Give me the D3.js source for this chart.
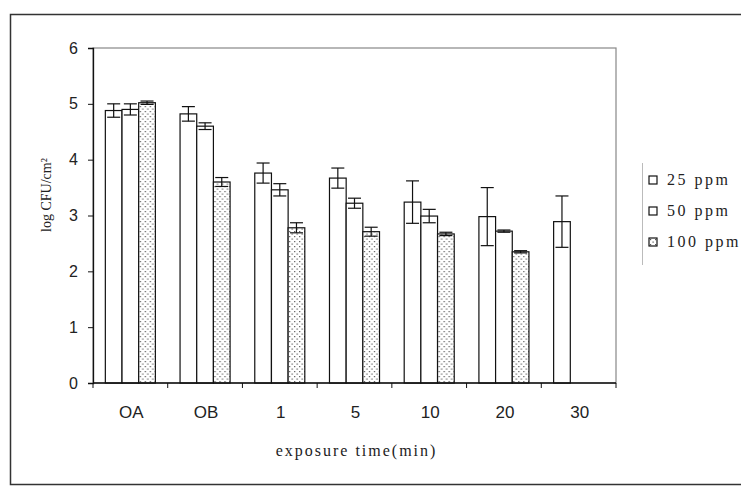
<!DOCTYPE html>
<html>
<head>
<meta charset="utf-8">
<script src="https://cdn.jsdelivr.net/npm/d3@7"></script>
<style>
  body { margin: 0; background: #fff; }
  svg { display: block; }
</style>
</head>
<body>
<div id="chart"></div>
<script>
// categories and series
const categories = ["OA", "OB", "1", "5", "10", "20", "30"];
const seriesNames = ["25 ppm", "50 ppm", "100 ppm"];

// mean values (log CFU/cm2), null = no bar
const values25  = [4.88, 4.82, 3.76, 3.67, 3.24, 2.98, 2.89];
const values50  = [4.90, 4.60, 3.46, 3.22, 2.99, 2.72, null];
const values100 = [5.02, 3.60, 2.78, 2.71, 2.67, 2.35, null];

// error bars
const err25  = [0.12, 0.13, 0.18, 0.18, 0.38, 0.52, 0.46];
const err50  = [0.10, 0.06, 0.11, 0.09, 0.12, 0.02, null];
const err100 = [0.03, 0.08, 0.09, 0.08, 0.03, 0.02, null];

const yTicks = [0, 1, 2, 3, 4, 5, 6];

const width = 741, height = 488;
const margin = { top: 48, right: 125, bottom: 105, left: 93 };

const rows = [];
categories.forEach((c, i) => {
    [values25, values50, values100].forEach((vals, j) => {
        const errs = [err25, err50, err100][j];
        if (vals[i] !== null) rows.push({ cat: c, key: seriesNames[j], value: vals[i], err: errs[i] });
    });
});

const svg = d3.select("#chart").append("svg")
    .attr("width", width)
    .attr("height", height)
    .attr("viewBox", [0, 0, width, height]);

// dotted fill for 100 ppm
const defs = svg.append("defs");
const pat = defs.append("pattern")
    .attr("id", "dots")
    .attr("patternUnits", "userSpaceOnUse")
    .attr("width", 5)
    .attr("height", 5);
pat.append("rect").attr("width", 5).attr("height", 5).attr("fill", "#fff");
pat.append("rect").attr("x", 1).attr("y", 1).attr("width", 1.2).attr("height", 1.2).attr("fill", "#555");
pat.append("rect").attr("x", 3.5).attr("y", 3.5).attr("width", 1.2).attr("height", 1.2).attr("fill", "#555");

// outer chart frame
svg.append("rect")
    .attr("x", 10.5)
    .attr("y", 14.5)
    .attr("width", 780)
    .attr("height", 470)
    .attr("fill", "none")
    .attr("stroke", "#333")
    .attr("stroke-width", 1.5);

const x0 = d3.scaleBand()
    .domain(categories)
    .range([margin.left, width - margin.right]);

const x1 = d3.scaleBand()
    .domain(seriesNames)
    .range([0, x0.bandwidth()])
    .paddingOuter(0.74);

const y = d3.scaleLinear()
    .domain([0, 6])
    .range([height - margin.bottom, margin.top]);

const fill = d3.scaleOrdinal().domain(seriesNames).range(["#fff", "#fff", "url(#dots)"]);

// plot area border
svg.append("rect")
    .attr("x", margin.left)
    .attr("y", margin.top)
    .attr("width", width - margin.left - margin.right)
    .attr("height", height - margin.top - margin.bottom)
    .attr("fill", "none")
    .attr("stroke", "#888")
    .attr("stroke-width", 1.2);

// bars
const bar = svg.append("g")
    .selectAll("g")
    .data(rows)
    .join("g")
    .attr("transform", d => `translate(${x0(d.cat) + x1(d.key)},0)`);

bar.append("rect")
    .attr("x", 0)
    .attr("y", d => y(d.value))
    .attr("width", x1.bandwidth())
    .attr("height", d => y(0) - y(d.value))
    .attr("fill", d => fill(d.key))
    .attr("stroke", "#111")
    .attr("stroke-width", 1.2);

// error bars
const cap = 6.5;
const eb = bar.append("g")
    .attr("stroke", "#111")
    .attr("stroke-width", 1.2)
    .attr("transform", `translate(${x1.bandwidth() / 2},0)`);
eb.append("line")
    .attr("y1", d => y(d.value - d.err))
    .attr("y2", d => y(d.value + d.err));
eb.append("line")
    .attr("x1", -cap).attr("x2", cap)
    .attr("y1", d => y(d.value + d.err))
    .attr("y2", d => y(d.value + d.err));
eb.append("line")
    .attr("x1", -cap).attr("x2", cap)
    .attr("y1", d => y(d.value - d.err))
    .attr("y2", d => y(d.value - d.err));

// y axis
svg.append("g")
    .attr("transform", `translate(${margin.left},0)`)
    .call(d3.axisLeft(y).tickValues(yTicks).tickSize(5).tickPadding(10).tickFormat(d3.format("d")))
    .call(g => g.select(".domain").attr("stroke", "#111").attr("stroke-width", 1.3))
    .call(g => g.selectAll(".tick line").attr("stroke", "#111"))
    .call(g => g.selectAll("text")
        .attr("font-family", "'Liberation Sans', Arial, sans-serif")
        .attr("font-size", "16px")
        .attr("fill", "#222"));

// x axis: ticks on category boundaries
const xAxis = svg.append("g")
    .attr("transform", `translate(0,${y(0)})`);
xAxis.append("line")
    .attr("x1", margin.left)
    .attr("x2", width - margin.right)
    .attr("stroke", "#111")
    .attr("stroke-width", 1.3);
xAxis.selectAll(".bound")
    .data(categories.concat(["end"]))
    .join("line")
    .attr("class", "bound")
    .attr("x1", (d, i) => i < categories.length ? x0(d) : x0.range()[1])
    .attr("x2", (d, i) => i < categories.length ? x0(d) : x0.range()[1])
    .attr("y1", 0)
    .attr("y2", 5)
    .attr("stroke", "#111");
xAxis.selectAll(".lab")
    .data(categories)
    .join("text")
    .attr("class", "lab")
    .attr("x", d => x0(d) + x0.bandwidth() / 2 + 1)
    .attr("y", 35)
    .attr("text-anchor", "middle")
    .attr("font-family", "'Liberation Sans', Arial, sans-serif")
    .attr("font-size", "17px")
    .attr("fill", "#222")
    .text(d => d);

// axis titles
svg.append("text")
    .attr("x", (margin.left + width - margin.right) / 2 + 2)
    .attr("y", 456)
    .attr("text-anchor", "middle")
    .attr("font-family", "'Liberation Serif', 'Times New Roman', serif")
    .attr("font-size", "16px")
    .attr("letter-spacing", "2px")
    .attr("fill", "#222")
    .text("exposure time(min)");

svg.append("text")
    .attr("transform", "translate(51,195) rotate(-90)")
    .attr("text-anchor", "middle")
    .attr("font-family", "'Liberation Serif', 'Times New Roman', serif")
    .attr("font-size", "14px")
    .attr("fill", "#222")
    .text("log CFU/cm²");

// legend
const legend = svg.append("g")
    .attr("transform", "translate(642,163)");
legend.append("line")
    .attr("x1", 0.5).attr("x2", 0.5)
    .attr("y1", 0).attr("y2", 102)
    .attr("stroke", "#bbb");
const item = legend.selectAll(".item")
    .data(seriesNames)
    .join("g")
    .attr("class", "item")
    .attr("transform", (d, i) => `translate(7,${13 + i * 31})`);
item.append("rect")
    .attr("x", 0).attr("y", 0)
    .attr("width", 8).attr("height", 8)
    .attr("fill", d => fill(d))
    .attr("stroke", "#111")
    .attr("stroke-width", 1.2);
item.append("text")
    .attr("x", 18)
    .attr("y", 9)
    .attr("font-family", "'Liberation Serif', 'Times New Roman', serif")
    .attr("font-size", "16px")
    .attr("letter-spacing", "2.5px")
    .attr("fill", "#222")
    .text(d => d);
</script>
</body>
</html>
